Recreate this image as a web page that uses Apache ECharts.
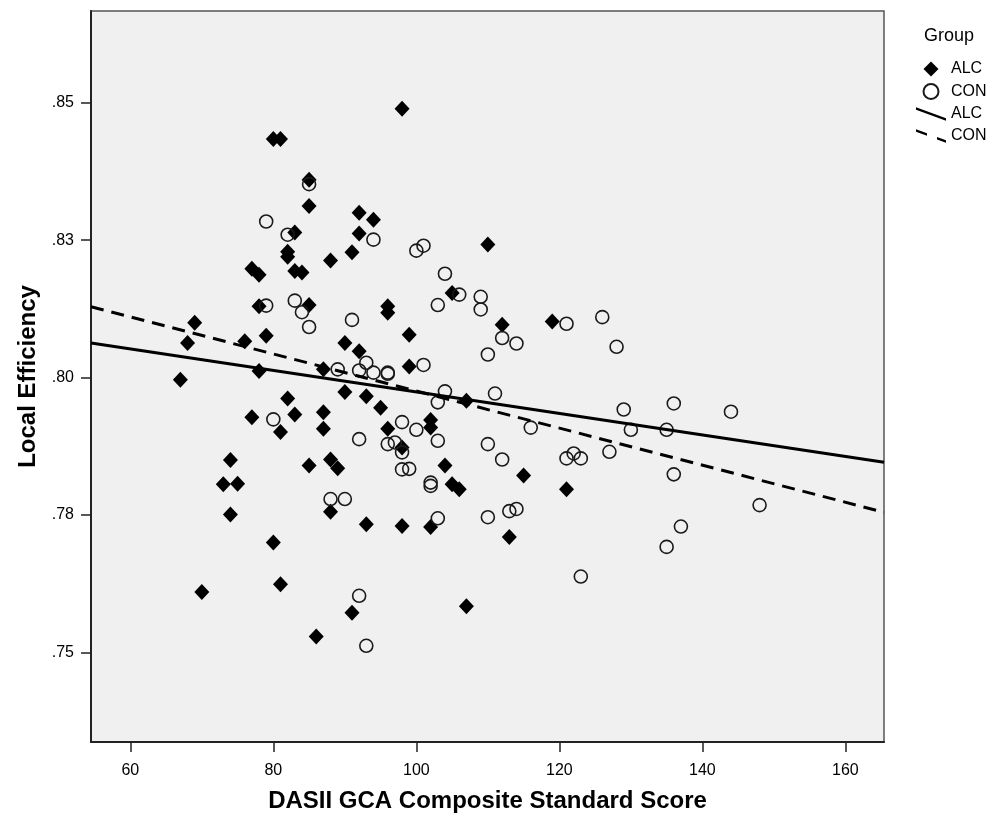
<!DOCTYPE html>
<html>
<head>
<meta charset="utf-8">
<script src="https://cdn.jsdelivr.net/npm/echarts@6/dist/echarts.min.js"></script>
<style>
html, body { margin: 0; padding: 0; background: #fff; }
#chart { width: 1000px; height: 818px; }
</style>
</head>
<body>
<div id="chart"></div>
<script>
// data: [GCA score, local efficiency]
var alcPoints = [
  [98, .8489], [80, .8434], [81, .8434], [85, .8360], [85, .8312], [92, .8300], [94, .8287],
  [83, .8264], [92, .8262], [82, .8229], [82, .8220], [88, .8213], [91, .8228], [77, .8198],
  [78, .8187], [83, .8194], [84, .8191], [78, .8130], [85, .8132], [96, .8130], [96, .8118],
  [69, .8100], [68, .8063], [76, .8066], [79, .8076], [90, .8063], [92, .8048], [78, .8012],
  [87, .8015], [67, .7996], [90, .7974], [93, .7966], [95, .7945], [82, .7962], [77, .7928],
  [83, .7933], [81, .7901], [87, .7937], [87, .7907], [96, .7907], [74, .7850], [73, .7806],
  [75, .7807], [74, .7751], [85, .7840], [88, .7851], [89, .7835], [88, .7756], [93, .7733],
  [80, .7700], [81, .7624], [70, .7610], [91, .7572], [86, .7529], [107, .7584], [110, .8242],
  [105, .8154], [99, .8078], [112, .8096], [119, .8102], [99, .8020], [107, .7958], [102, .7923],
  [102, .7909], [98, .7873], [104, .7840], [105, .7806], [106, .7797], [115, .7822], [121, .7797],
  [98, .7730], [102, .7728], [113, .7710]
];
var conPoints = [
  [85, .8352], [79, .8284], [82, .8260], [94, .8251], [79, .8131], [83, .8140], [84, .8119],
  [85, .8092], [91, .8105], [93, .8027], [94, .8009], [96, .8009], [89, .8015], [92, .8013],
  [80, .7924], [92, .7888], [96, .7879], [97, .7882], [88, .7779], [90, .7779], [92, .7603],
  [93, .7512], [100, .8231], [101, .8240], [104, .8189], [106, .8151], [109, .8147], [109, .8124],
  [103, .8132], [112, .8072], [114, .8062], [110, .8042], [121, .8098], [126, .8110], [128, .8056],
  [101, .8023], [96, .8007], [104, .7975], [103, .7955], [111, .7971], [98, .7919], [100, .7905],
  [98, .7864], [103, .7885], [116, .7909], [110, .7879], [112, .7851], [98, .7833], [99, .7834],
  [102, .7809], [102, .7803], [121, .7853], [122, .7862], [123, .7853], [127, .7865], [129, .7942],
  [130, .7905], [135, .7905], [136, .7953], [144, .7938], [136, .7824], [148, .7768], [137, .7729],
  [135, .7692], [123, .7638], [103, .7744], [110, .7746], [113, .7757], [114, .7761]
];
// fit lines, end points at the plot edges
var alcFit = [[54.5, .8063], [165.4, .7846]];
var conFit = [[54.5, .8129], [165.4, .7755]];

var xTicks = [60, 80, 100, 120, 140, 160];
var yTicks = [.75, .775, .8, .825, .85];
var yTickLabels = ['.75', '.78', '.80', '.83', '.85'];

var font = 'Liberation Sans, Arial, sans-serif';
var chart = echarts.init(document.getElementById('chart'));

var option = {
  animation: false,
  textStyle: { fontFamily: font, color: '#000' },
  title: {
    text: 'Group', left: 919, top: 22,
    textStyle: { fontFamily: font, fontSize: 18, fontWeight: 'normal', color: '#000' }
  },
  legend: {
    orient: 'vertical', left: 916, top: 61, padding: 0,
    itemWidth: 30, itemHeight: 15, itemGap: 6,
    symbolKeepAspect: true,
    textStyle: { fontFamily: font, fontSize: 16, color: '#000' },
    formatter: function (name) { return name.split(' ')[0]; },
    data: [
      { name: 'ALC', icon: 'path://M7,0 L14,7 L7,14 L0,7 Z' },
      { name: 'CON', icon: 'circle' },
      { name: 'ALC fit', icon: 'path://M0,0 L30,11 L30,13.5 L0,2.5 Z' },
      { name: 'CON fit', icon: 'path://M0,0 L11,4 L11,6.5 L0,2.5 Z M21,7.7 L30,11 L30,13.5 L21,10.2 Z' }
    ]
  },
  grid: {
    left: 91, right: 116, top: 11, bottom: 75,
    show: true, backgroundColor: '#f0f0f0', borderColor: '#555', borderWidth: 1.5
  },
  xAxis: {
    type: 'value', min: 54.5, max: 165.4,
    name: 'DASII GCA Composite Standard Score',
    nameLocation: 'middle', nameGap: 47,
    nameTextStyle: { fontFamily: font, fontSize: 24, fontWeight: 'bold', color: '#000' },
    axisLine: { onZero: false, lineStyle: { color: '#222', width: 2 } },
    axisTick: { show: true, length: 10, customValues: xTicks, lineStyle: { color: '#222', width: 1.5 } },
    axisLabel: { customValues: xTicks, margin: 21, fontSize: 16, color: '#000', fontFamily: font },
    splitLine: { show: false }
  },
  yAxis: {
    type: 'value', min: .7337, max: .8667,
    name: 'Local Efficiency',
    nameLocation: 'middle', nameGap: 50, nameRotate: 90,
    nameTextStyle: { fontFamily: font, fontSize: 24, fontWeight: 'bold', color: '#000' },
    axisLine: { show: true, lineStyle: { color: '#222', width: 2 } },
    axisTick: { show: true, length: 10, customValues: yTicks, lineStyle: { color: '#222', width: 1.5 } },
    axisLabel: {
      customValues: yTicks, margin: 17, fontSize: 16, color: '#000', fontFamily: font,
      formatter: function (v) {
        for (var i = 0; i < yTicks.length; i++) {
          if (Math.abs(yTicks[i] - v) < 1e-6) return yTickLabels[i];
        }
        return '';
      }
    },
    splitLine: { show: false }
  },
  series: [
    {
      name: 'ALC', type: 'scatter', data: alcPoints,
      symbol: 'diamond', symbolSize: [15, 16],
      itemStyle: { color: '#000', opacity: 1 }
    },
    {
      name: 'CON', type: 'scatter', data: conPoints,
      symbol: 'circle', symbolSize: 13,
      itemStyle: { color: 'rgba(0,0,0,0)', borderColor: '#1a1a1a', borderWidth: 1.6, opacity: 1 }
    },
    {
      name: 'ALC fit', type: 'line', data: alcFit,
      symbol: 'none', silent: true, z: 3,
      itemStyle: { color: '#000' },
      lineStyle: { color: '#000', width: 3 }
    },
    {
      name: 'CON fit', type: 'line', data: conFit,
      symbol: 'none', silent: true, z: 3,
      itemStyle: { color: '#000' },
      lineStyle: { color: '#000', width: 3, type: [13, 8] }
    }
  ]
};

chart.setOption(option);
</script>
</body>
</html>
